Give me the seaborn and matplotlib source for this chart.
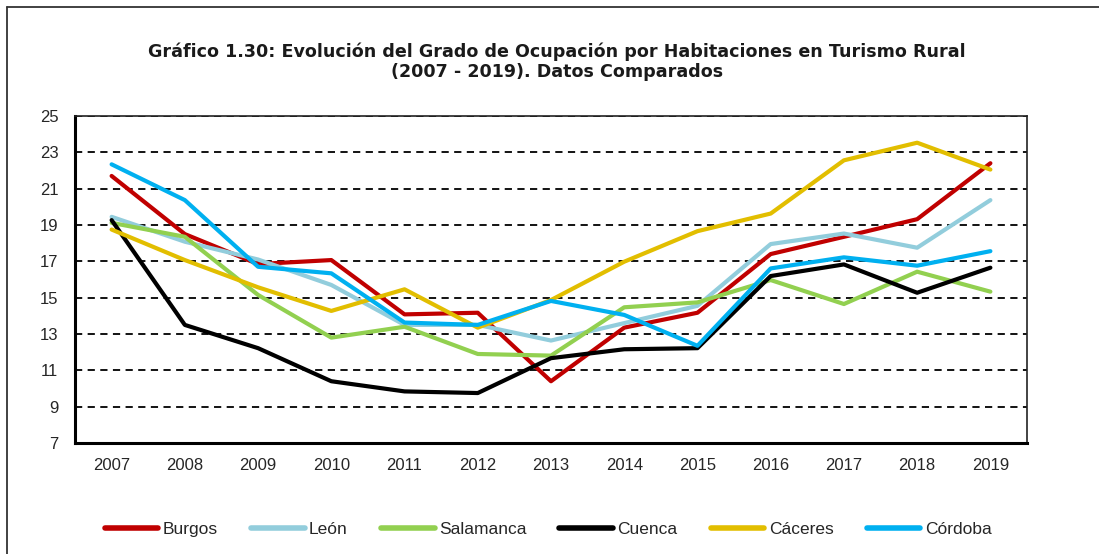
import matplotlib
matplotlib.use("Agg")
import matplotlib.pyplot as plt
import seaborn as sns
import pandas as pd
from matplotlib.lines import Line2D

# datos
years = list(range(2007, 2020))
burgos = [21.7, 18.5, 16.85, 17.07, 14.08, 14.17, 10.4, 13.35, 14.17, 17.4, 18.35, 19.32, 22.4]
leon = [19.45, 18.08, 17.1, 15.7, 13.5, 13.5, 12.64, 13.6, 14.55, 17.95, 18.53, 17.75, 20.37]
salamanca = [19.12, 18.35, 15.15, 12.8, 13.4, 11.9, 11.81, 14.47, 14.74, 15.97, 14.65, 16.43, 15.33]
cuenca = [19.27, 13.5, 12.22, 10.4, 9.84, 9.75, 11.67, 12.16, 12.22, 16.19, 16.83, 15.27, 16.65]
caceres = [18.75, 17.07, 15.57, 14.27, 15.46, 13.35, 14.87, 16.98, 18.66, 19.63, 22.56, 23.53, 22.05]
cordoba = [22.34, 20.37, 16.7, 16.34, 13.63, 13.5, 14.82, 14.05, 12.35, 16.61, 17.22, 16.76, 17.56]

provincias = ["Burgos", "León", "Salamanca", "Cuenca", "Cáceres", "Córdoba"]
colores = ["#C00000", "#92CDDC", "#92D050", "#000000", "#E2BE00", "#00B0F0"]
yticks = list(range(7, 26, 2))

datos = pd.DataFrame({"Año": years * 6,
                      "Valor": burgos + leon + salamanca + cuenca + caceres + cordoba,
                      "Provincia": [p for p in provincias for _ in years]})

sns.set_theme(style="white")
plt.rcParams['font.family'] = ['Liberation Sans', 'DejaVu Sans']

fig = plt.figure(figsize=(10.99, 5.54), dpi=100)
ax = fig.add_axes([75 / 1099, 1 - 443 / 554, (1027 - 75) / 1099, (443 - 116) / 554])

# marco exterior (solo izquierda y arriba visibles)
fig.add_artist(Line2D([6.5 / 1099, 6.5 / 1099], [0, 1 - 7 / 554], color="#333333", lw=1.3, transform=fig.transFigure))
fig.add_artist(Line2D([6.5 / 1099, 1], [1 - 7 / 554, 1 - 7 / 554], color="#333333", lw=1.3, transform=fig.transFigure))

for y in yticks[1:]:
    ax.axhline(y, color="black", lw=1.3, ls=(0, (4, 3)), zorder=1)

sns.lineplot(data=datos, x="Año", y="Valor", hue="Provincia", hue_order=provincias,
             palette=colores, lw=3, ax=ax, legend=False, zorder=3)

ax.set_xlim(2006.5, 2019.5)
ax.set_ylim(7, 25)
ax.set_xticks(years)
ax.set_yticks(yticks)
ax.set_xticklabels([str(a) for a in years], fontsize=12)
ax.set_yticklabels([str(v) for v in yticks], fontsize=12)
ax.tick_params(axis="x", length=0, pad=11)
ax.tick_params(axis="y", length=0, pad=12)
ax.set_xlabel("")
ax.set_ylabel("")
for lado in ["left", "bottom"]:
    ax.spines[lado].set_linewidth(2.2)
    ax.spines[lado].set_color("black")
for lado in ["top", "right"]:
    ax.spines[lado].set_linewidth(1.2)
    ax.spines[lado].set_color("#222222")

fig.text(557 / 1099, 1 - 61.5 / 554,
         "Gráfico 1.30: Evolución del Grado de Ocupación por Habitaciones en Turismo Rural\n(2007 - 2019). Datos Comparados",
         ha="center", va="center", fontsize=12.6, fontweight="bold", family="DejaVu Sans",
         color="#1a1a1a", linespacing=1.15)

handles = [Line2D([], [], color=c, lw=4, solid_capstyle="round") for c in colores]
fig.legend(handles, provincias, loc="center", bbox_to_anchor=(548 / 1099, 1 - 529 / 554), ncol=6,
           frameon=False, fontsize=12.5, handlelength=3.1, handletextpad=0.25, columnspacing=1.9)

fig.savefig("out.png", dpi=100, facecolor="white")
